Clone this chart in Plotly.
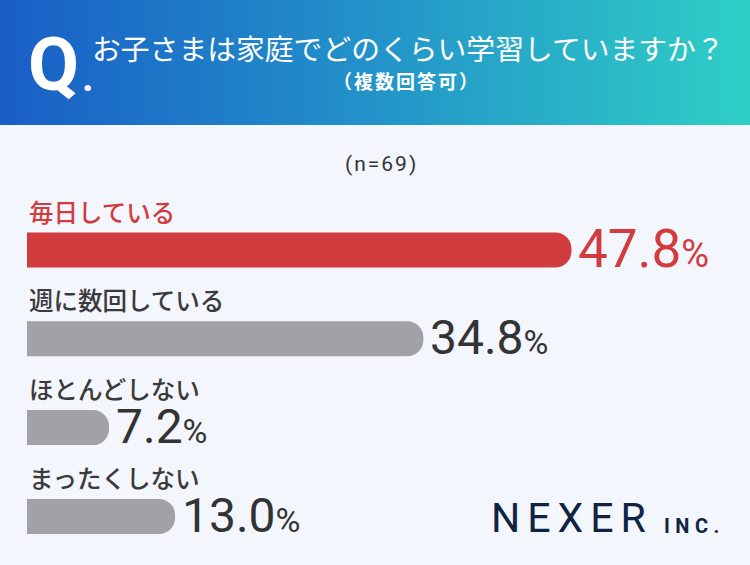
import plotly.graph_objects as go

categories = ["毎日している", "週に数回している", "ほとんどしない", "まったくしない"]
values = [47.8, 34.8, 7.2, 13.0]
bar_colors = ["#d23c3e", "#a1a2a6", "#a1a2a6", "#a1a2a6"]
label_colors = ["#d23c3e", "#3a3a3a", "#3a3a3a", "#3a3a3a"]
value_colors = ["#d23c3e", "#333333", "#333333", "#333333"]
value_sizes = [53, 48, 48, 48]
pct_sizes = [38, 34, 34, 34]

title = "お子さまは家庭でどのくらい学習していますか？"
subtitle = "（複数回答可）"
n_label = "(n=69)"

W, H = 750, 565
JP = "Noto Sans CJK JP"
NUM = "Roboto"

fig = go.Figure()

# header gradient
fig.add_trace(go.Scatter(
    x=[0, 1, 1, 0, 0], y=[0, 0, 1, 1, 0], fill="toself", mode="lines",
    line=dict(width=0),
    fillgradient=dict(type="horizontal",
                      colorscale=[[0, "#195ec6"], [0.5, "#2393c9"], [1, "#2ecfc6"]]),
    xaxis="x2", yaxis="y2", hoverinfo="skip", showlegend=False))

fig.add_trace(go.Bar(
    x=values, y=categories, orientation="h",
    marker=dict(color=bar_colors, line=dict(width=0)),
    width=0.394, showlegend=False, hoverinfo="skip"))

px_per_unit = 11.39
x0 = 27
xr = (W - x0) / px_per_unit
row = 88.8
top_px = 250 - 0.5 * row
bot_px = top_px + 4 * row

fig.update_layout(
    width=W, height=H, margin=dict(l=0, r=0, t=0, b=0),
    paper_bgcolor="#f3f6fc", plot_bgcolor="rgba(0,0,0,0)",
    barcornerradius=16,
    xaxis=dict(domain=[x0 / W, 1], range=[0, xr], visible=False, fixedrange=True),
    yaxis=dict(domain=[(H - bot_px) / H, (H - top_px) / H], range=[3.5, -0.5],
               type="category", categoryorder="array", categoryarray=categories,
               visible=False),
    xaxis2=dict(domain=[0, 1], range=[0, 1], visible=False),
    yaxis2=dict(domain=[1 - 125 / H, 1], range=[0, 1], visible=False),
)

ann = []
for c, v, lc, vc, vs, ps in zip(categories, values, label_colors, value_colors, value_sizes, pct_sizes):
    ann.append(dict(x=0, y=c, xref="x", yref="y", text=c, showarrow=False,
                    xanchor="left", yanchor="middle", yshift=39,
                    font=dict(family=JP, size=24.5, color=lc, weight=500)))
    ann.append(dict(x=v, y=c, xref="x", yref="y",
                    text=f"{v:.1f}<span style='font-size:{ps}px'>%</span>",
                    showarrow=False, xanchor="left", yanchor="middle", xshift=5, yshift=1,
                    font=dict(family=NUM, size=vs, color=vc)))

ann += [
    dict(x=26, y=H - 64, xref="paper", yref="paper", text="<b>Q</b>", showarrow=False,
         xanchor="left", yanchor="middle", font=dict(family=NUM, size=74, color="white")),
    dict(x=80, y=H - 77, xref="paper", yref="paper", text="<b>.</b>", showarrow=False,
         xanchor="left", yanchor="middle", font=dict(family=NUM, size=40, color="white")),
    dict(x=408.5, y=H - 47, xref="paper", yref="paper", text=title, showarrow=False,
         xanchor="center", yanchor="middle", font=dict(family=JP, size=28.8, color="white")),
    dict(x=406, y=H - 80, xref="paper", yref="paper",
         text=f"<b><span style='letter-spacing:2px'>{subtitle}</span></b>", showarrow=False,
         xanchor="center", yanchor="middle", font=dict(family=JP, size=19, color="white")),
    dict(x=381, y=H - 164, xref="paper", yref="paper",
         text=f"<span style='letter-spacing:2px'>{n_label}</span>", showarrow=False,
         xanchor="center", yanchor="middle", font=dict(family=NUM, size=21, color="#333333")),
    dict(x=489, y=H - 518, xref="paper", yref="paper",
         text="<span style='letter-spacing:7px'>NEXER</span>", showarrow=False,
         xanchor="left", yanchor="middle", font=dict(family=NUM, size=41, color="#0f2443")),
    dict(x=662, y=H - 526, xref="paper", yref="paper",
         text="<b><span style='letter-spacing:5.5px'>INC.</span></b>", showarrow=False,
         xanchor="left", yanchor="middle", font=dict(family=NUM, size=20, color="#0f2443")),
]
for a in ann:
    if a["xref"] == "paper":
        a["x"] = a["x"] / W
        a["y"] = a["y"] / H
fig.update_layout(annotations=ann)

fig.write_html("out.html")
